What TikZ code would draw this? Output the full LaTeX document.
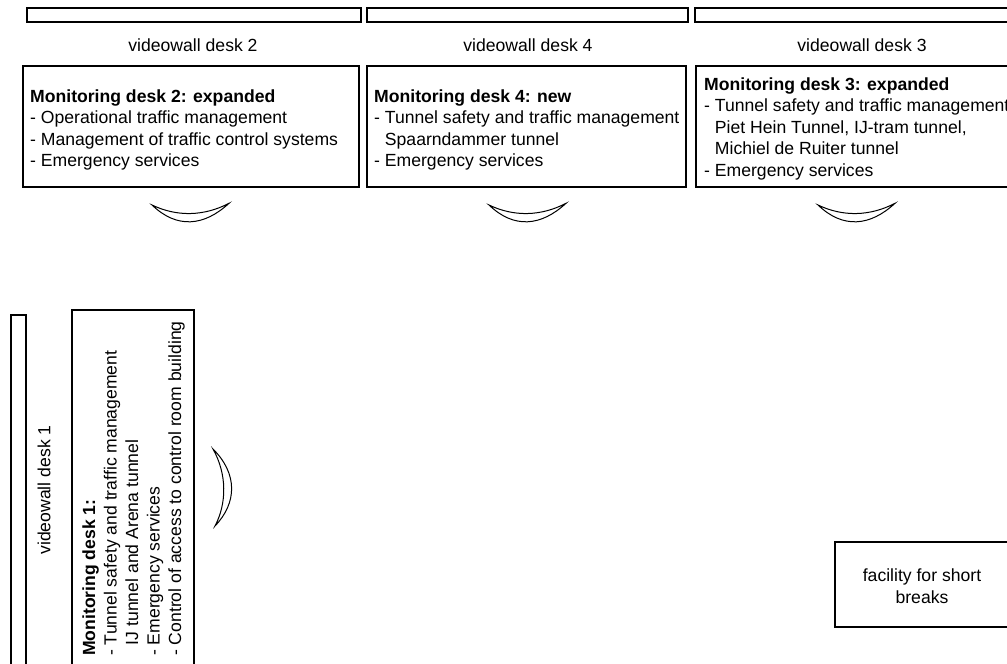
\documentclass[tikz,border=0pt]{standalone}
\usepackage{fontspec}
\setmainfont{Liberation Sans}
\usetikzlibrary{math}

\tikzset{
  deskbox/.style={draw, line width=1.1pt},
  wallbar/.style={draw, line width=1.1pt},
  desktext/.style={inner sep=0, align=left, anchor=base west, font=\fontsize{17.6}{21.5}\selectfont},
  walltext/.style={inner sep=0, align=center, font=\fontsize{17.6}{21.5}\selectfont},
  seat/.style={line width=1pt},
}

\begin{document}
\begin{tikzpicture}[x=1pt, y=-1pt]
\tikzmath{
\W=1007;
\H=664;
\seaty=205;
}
\useasboundingbox (0,0) rectangle (\W,\H);
\clip (0,0) rectangle (\W,\H);

% videowalls along the top
\draw[wallbar] (27,8) rectangle (361,22);
\draw[wallbar] (367,8) rectangle (688,22);
\draw[wallbar] (695,8) rectangle (1030,22);
\node[walltext] (wall2) at (193,45) {videowall desk 2};
\node[walltext] (wall4) at (528,45) {videowall desk 4};
\node[walltext] (wall3) at (862,45) {videowall desk 3};

% monitoring desks along the top (text anchored at last baseline)
\draw[deskbox] (23,66) rectangle (359,187);
\node[desktext] (desk2) at (30,166.5) {\textbf{Monitoring desk 2: expanded}\\
- Operational traffic management\\
- Management of traffic control systems\\
- Emergency services};

\draw[deskbox] (367,66) rectangle (686,187);
\node[desktext] (desk4) at (374,166.5) {\textbf{Monitoring desk 4: new}\\
- Tunnel safety and traffic management\\
\hphantom{- }Spaarndammer tunnel\\
- Emergency services};

\draw[deskbox] (696,66) rectangle (1030,187);
\node[desktext] (desk3) at (704,176) {\textbf{Monitoring desk 3: expanded}\\
- Tunnel safety and traffic management\\
\hphantom{- }Piet Hein Tunnel, IJ-tram tunnel,\\
\hphantom{- }Michiel de Ruiter tunnel\\
- Emergency services};

% chairs
\foreach \sx in {152,489,818}{
  \draw[seat] (\sx,\seaty) .. controls +(25,24) and +(-25,23) .. ++(77,-1.7)
    .. controls +(-25,13) and +(25,12) .. cycle;
}
\draw[seat] (213,449) .. controls (238,474) and (237,503) .. (215,526)
  .. controls (227,503) and (227,474) .. cycle;

% desk 1 on the left
\draw[wallbar] (11,315) rectangle (26,680);
\node[walltext, rotate=90] (wall1) at (44,490) {videowall desk 1};

\draw[deskbox] (72,310) rectangle (194,680);
\node[desktext, rotate=90] (desk1) at (181,656) {\textbf{Monitoring desk 1:}\\
- Tunnel safety and traffic management\\
\hphantom{- }IJ tunnel and Arena tunnel\\
- Emergency services\\
- Control of access to control room building};

% break room
\draw[deskbox] (835,542) rectangle (1008,627);
\node[walltext] (breaks) at (922,586) {facility for short\\breaks};
\end{tikzpicture}
\end{document}
